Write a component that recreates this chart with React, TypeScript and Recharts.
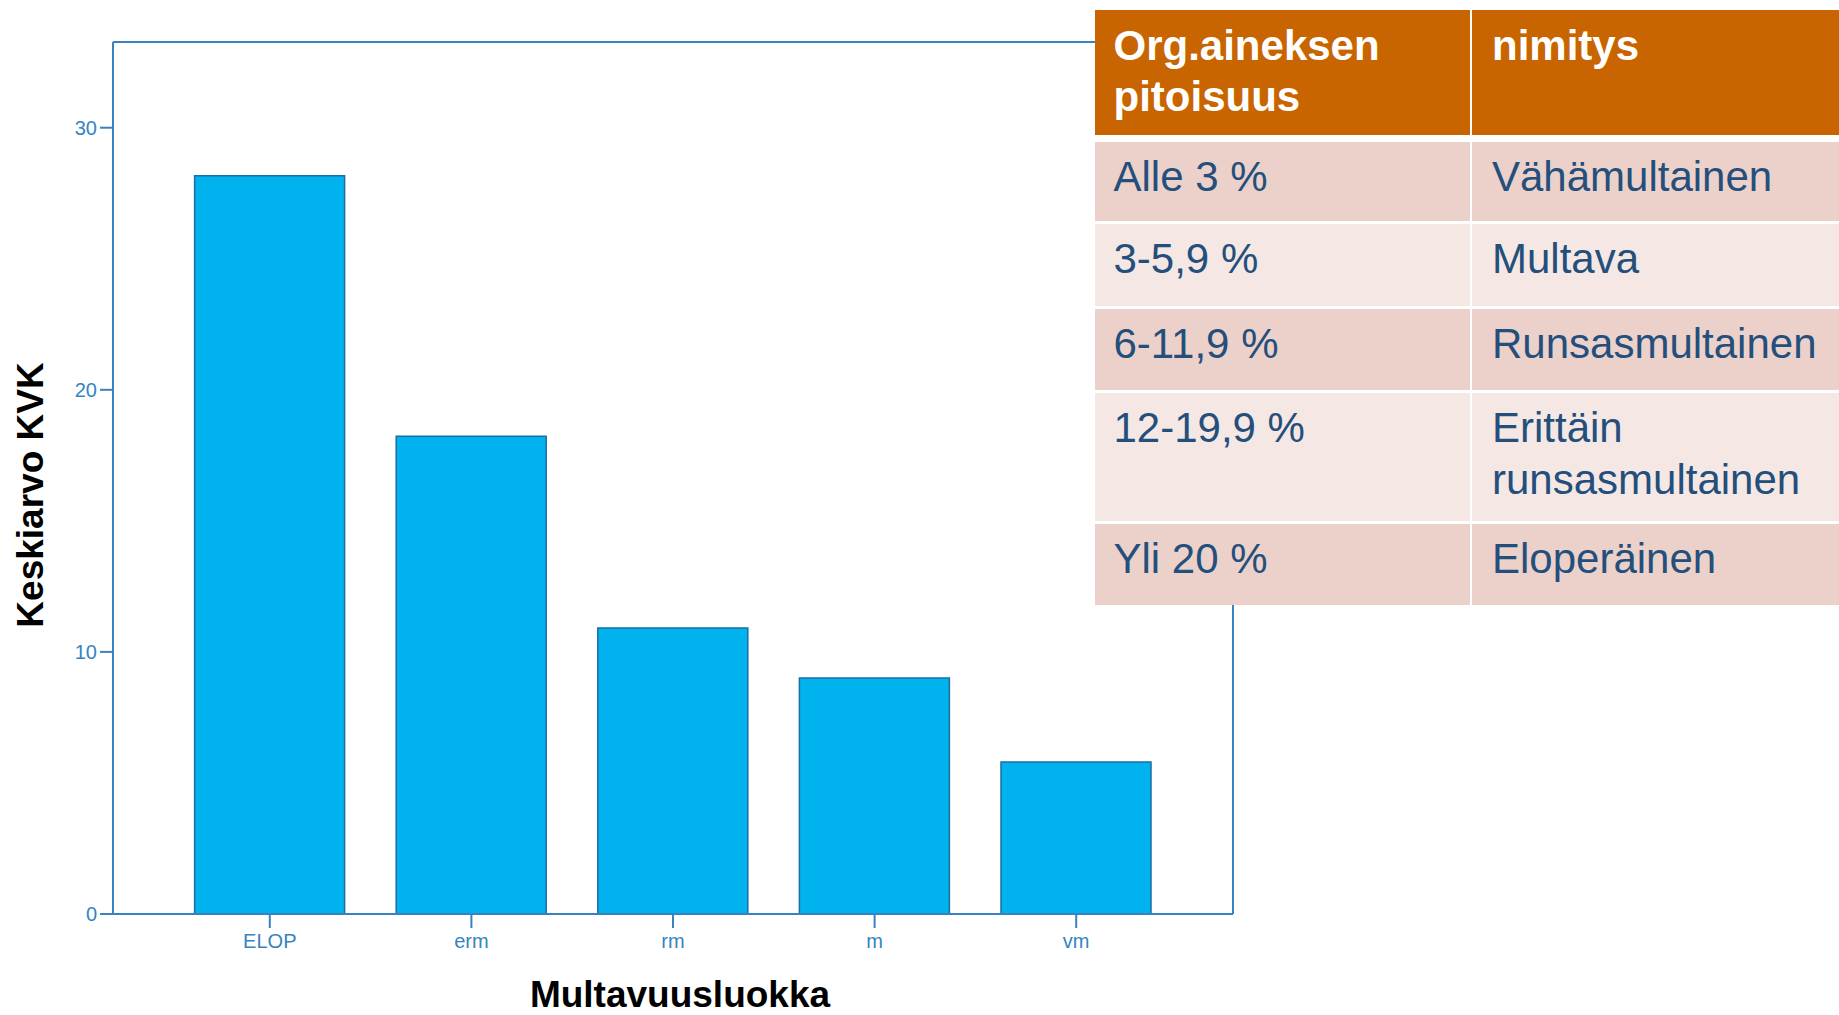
import React from 'react';
import { BarChart, Bar, XAxis, YAxis, ReferenceLine } from 'recharts';

const categories = ['ELOP', 'erm', 'rm', 'm', 'vm'];
const meanKVK = [28.17, 18.23, 10.91, 9.0, 5.8];
const yTicks = [0, 10, 20, 30];
const yMax = 33.27;
const xTitle = 'Multavuusluokka';
const yTitle = 'Keskiarvo KVK';

const tableHeader = ['Org.aineksen\npitoisuus', 'nimitys'];
const tableContent = ['Alle 3 %', '3-5,9 %', '6-11,9 %', '12-19,9 %', 'Yli 20 %'];
const tableNames = ['Vähämultainen', 'Multava', 'Runsasmultainen', 'Erittäin\nrunsasmultainen', 'Eloperäinen'];

const data = categories.map((c, i) => ({ name: c, value: meanKVK[i] }));

const FONT = '"Liberation Sans", Arial, Helvetica, sans-serif';
const AXIS = '#3a82bd';
const TICK = '#3584c2';
const ROW_HEIGHTS = [79, 82, 81, 128, 81];
const ROW_BG = ['#ebd1c9', '#f5e8e4'];

const XTitle = (props: any) => {
  const vb = props.viewBox || { x: 113, width: 1120, y: 914 };
  const cx = vb.x + vb.width / 2 + 7;
  return (
    <text x={cx} y={1007} textAnchor="middle" fontFamily={FONT} fontWeight="bold" fontSize={37} fill="#000">
      {xTitle}
    </text>
  );
};

const YTitle = (props: any) => {
  const vb = props.viewBox || { y: 42, height: 872 };
  const cy = vb.y + vb.height / 2 + 17;
  return (
    <text
      x={43}
      y={cy}
      transform={`rotate(-90 43 ${cy})`}
      textAnchor="middle"
      fontFamily={FONT}
      fontWeight="bold"
      fontSize={37}
      fill="#000"
    >
      {yTitle}
    </text>
  );
};

const cellText: React.CSSProperties = {
  fontFamily: FONT,
  fontSize: 42,
  whiteSpace: 'pre',
  boxSizing: 'border-box',
  overflow: 'hidden',
};

export default function App() {
  return (
    <div style={{ position: 'absolute', left: 0, top: 0, width: 1839, height: 1015, background: '#fff', overflow: 'hidden' }}>
      <BarChart
        width={1839}
        height={1015}
        data={data}
        margin={{ top: 42, right: 605, bottom: 41, left: 53 }}
        barCategoryGap="12.7%"
      >
        <XAxis
          dataKey="name"
          height={60}
          interval={0}
          padding={{ left: 56, right: 56 }}
          tickSize={14}
          tickMargin={6}
          axisLine={{ stroke: AXIS, strokeWidth: 2 }}
          tickLine={{ stroke: AXIS, strokeWidth: 2 }}
          tick={{ fill: TICK, fontSize: 20, fontFamily: FONT }}
          label={(p: any) => <XTitle {...p} />}
        />
        <YAxis
          domain={[0, yMax]}
          ticks={yTicks}
          allowDataOverflow
          width={60}
          tickSize={13}
          tickMargin={3}
          axisLine={{ stroke: AXIS, strokeWidth: 2 }}
          tickLine={{ stroke: AXIS, strokeWidth: 2 }}
          tick={{ fill: TICK, fontSize: 20, fontFamily: FONT }}
          label={(p: any) => <YTitle {...p} />}
        />
        <YAxis
          yAxisId="right"
          orientation="right"
          domain={[0, yMax]}
          allowDataOverflow
          width={1}
          tick={false}
          tickLine={false}
          axisLine={{ stroke: AXIS, strokeWidth: 2 }}
        />
        <ReferenceLine y={yMax} stroke={AXIS} strokeWidth={2} ifOverflow="extendDomain" />
        <Bar dataKey="value" fill="#00b2ee" stroke="#1c6ea4" strokeWidth={1.5} isAnimationActive={false} />
      </BarChart>

      <div style={{ position: 'absolute', left: 1094.5, top: 9.5, width: 744.5, background: '#fff' }}>
        <div style={{ display: 'flex', height: 125, marginBottom: 7 }}>
          {tableHeader.map((h, i) => (
            <div
              key={i}
              style={{
                ...cellText,
                width: i === 0 ? 375.5 : 367,
                marginLeft: i === 0 ? 0 : 2,
                background: '#c96500',
                color: '#fff',
                fontWeight: 'bold',
                lineHeight: '51px',
                padding: i === 0 ? '10px 0 0 19px' : '10px 0 0 20px',
              }}
            >
              {h}
            </div>
          ))}
        </div>
        {tableContent.map((c, r) => (
          <div key={r} style={{ display: 'flex', height: ROW_HEIGHTS[r], marginBottom: r === tableContent.length - 1 ? 0 : 3 }}>
            {[c, tableNames[r]].map((t, i) => (
              <div
                key={i}
                style={{
                  ...cellText,
                  width: i === 0 ? 375.5 : 367,
                  marginLeft: i === 0 ? 0 : 2,
                  background: ROW_BG[r % 2],
                  color: '#244f7c',
                  lineHeight: '52px',
                  padding: i === 0 ? '9px 0 0 19px' : '9px 0 0 20px',
                }}
              >
                {t}
              </div>
            ))}
          </div>
        ))}
      </div>
    </div>
  );
}
